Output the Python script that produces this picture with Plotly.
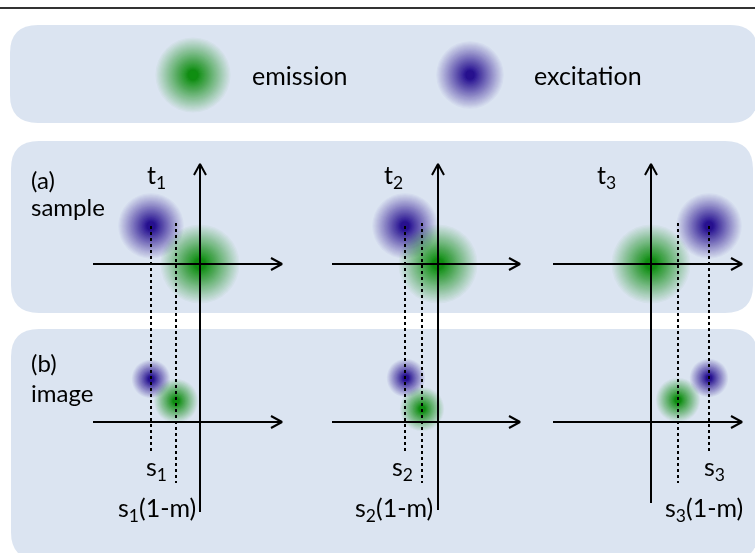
import math
import plotly.graph_objects as go

# ---- diagram data (pixel units of the 755x553 canvas) ----
origin_x = [200, 438, 651]          # vertical axis position of each time step
axis_start_x = [93, 332, 553]       # left end of horizontal axes
axis_end_x = [282, 520, 742]        # arrow tip of horizontal axes
axis_bottom_y = [512, 510, 503]     # lower end of vertical axes
sample_axis_y = 264
image_axis_y = 422
arrow_top_y = 164

exc_sample_x = [151, 405, 709]
exc_sample_y = [226, 226, 226]
em_sample_y = [264, 264, 264]
exc_image_x = [151, 406, 709]
exc_image_y = [379, 378, 378]
em_image_x = [176, 422, 678]
em_image_y = [401, 409, 400]

time_labels = ["t<sub>1</sub>", "t<sub>2</sub>", "t<sub>3</sub>"]
time_label_x = [156, 393, 606]
s_labels = ["s<sub>1</sub>", "s<sub>2</sub>", "s<sub>3</sub>"]
s_label_x = [156, 402, 714]
sm_labels = ["s<sub>1</sub>(1-m)", "s<sub>2</sub>(1-m)", "s<sub>3</sub>(1-m)"]

legend_names = ["emission", "excitation"]
legend_blob_x = [193, 470]
legend_text_x = [250, 532]

BG = "rgb(219,228,241)"
EXC = "rgb(32,14,165)"
EM = "rgb(0,160,20)"
FONT = "Lato"

fig = go.Figure()

def panel(x0, y0, x1, y1, r=28):
    path = (f"M {x0+r},{y0} L {x1-r},{y0} Q {x1},{y0} {x1},{y0+r} "
            f"L {x1},{y1-r} Q {x1},{y1} {x1-r},{y1} L {x0+r},{y1} "
            f"Q {x0},{y1} {x0},{y1-r} L {x0},{y0+r} Q {x0},{y0} {x0+r},{y0} Z")
    fig.add_shape(type="path", path=path, xref="x", yref="y",
                  fillcolor=BG, line=dict(width=0), layer="below")

panel(10, 25, 758, 123)
panel(11, 141, 753, 313)
panel(11, 329, 758, 560)

# top rule
fig.add_shape(type="line", x0=0, x1=755, y0=8, y1=8, xref="x", yref="y",
              line=dict(color="#333333", width=2))

def blobs(xs, ys, diams, color, n=60, a=0.05, p=1.4):
    # stacked translucent discs approximating a soft radial glow
    for j in range(1, n + 1):
        alpha = 1 - (1 - a) ** j
        frac = (1 - alpha) ** (1.0 / p)
        fig.add_trace(go.Scatter(x=xs, y=ys, mode="markers", hoverinfo="skip", opacity=a,
                                 marker=dict(size=[d * frac for d in diams], color=color,
                                             line=dict(width=0))))

exc_x = exc_sample_x + exc_image_x + [legend_blob_x[1]]
exc_y = exc_sample_y + exc_image_y + [75]
exc_d = [68] * 3 + [40] * 3 + [70]
em_x = origin_x + em_image_x + [legend_blob_x[0]]
em_y = em_sample_y + em_image_y + [75]
em_d = [82] * 3 + [46] * 3 + [78]
blobs(exc_x, exc_y, exc_d, EXC)
blobs(em_x, em_y, em_d, EM)

LINE = dict(color="black", width=2)
for i in range(3):
    ox = origin_x[i]
    fig.add_trace(go.Scatter(x=[ox, ox], y=[axis_bottom_y[i], arrow_top_y], mode="lines",
                             line=LINE, hoverinfo="skip"))
    fig.add_trace(go.Scatter(x=[ox - 6, ox, ox + 6], y=[arrow_top_y + 11, arrow_top_y, arrow_top_y + 11],
                             mode="lines", line=LINE, hoverinfo="skip"))
    for ay in (sample_axis_y, image_axis_y):
        fig.add_trace(go.Scatter(x=[axis_start_x[i], axis_end_x[i]], y=[ay, ay], mode="lines",
                                 line=LINE, hoverinfo="skip"))
        fig.add_trace(go.Scatter(x=[axis_end_x[i] - 11, axis_end_x[i], axis_end_x[i] - 11],
                                 y=[ay - 6, ay, ay + 6], mode="lines", line=LINE, hoverinfo="skip"))
    fig.add_trace(go.Scatter(x=[exc_sample_x[i], exc_sample_x[i]], y=[exc_sample_y[i], 453],
                             mode="lines", line=dict(color="black", width=2, dash="dot"), hoverinfo="skip"))
    fig.add_trace(go.Scatter(x=[em_image_x[i], em_image_x[i]], y=[223, 483],
                             mode="lines", line=dict(color="black", width=2, dash="dot"), hoverinfo="skip"))

def text(x, y, s, anchor="left", size=25):
    fig.add_annotation(x=x, y=y, text=s, showarrow=False, xanchor=anchor, yanchor="middle",
                       xref="x", yref="y", font=dict(family=FONT, size=size, color="black"))

for i in range(3):
    text(time_label_x[i], 176, time_labels[i], "center")
    text(s_label_x[i], 468, s_labels[i], "center")
sm_x = [198, 435, 663]
sm_anchor = ["right", "right", "left"]
for i in range(3):
    text(sm_x[i], 509, sm_labels[i], sm_anchor[i])

text(29, 179, "(a)", size=24)
text(29, 206, "sample", size=24)
text(29, 362, "(b)", size=24)
text(29, 392, "image", size=24)
text(legend_text_x[0], 75, legend_names[0])
text(legend_text_x[1], 75, legend_names[1])

fig.update_layout(width=755, height=553, margin=dict(l=0, r=0, t=0, b=0),
                  paper_bgcolor="white", plot_bgcolor="white", showlegend=False,
                  xaxis=dict(range=[0, 755], visible=False, fixedrange=True),
                  yaxis=dict(range=[553, 0], visible=False, fixedrange=True))
fig.write_html("out.html", config={"displayModeBar": False},
               post_script="document.body.style.margin='0px';document.body.style.overflow='hidden';")
